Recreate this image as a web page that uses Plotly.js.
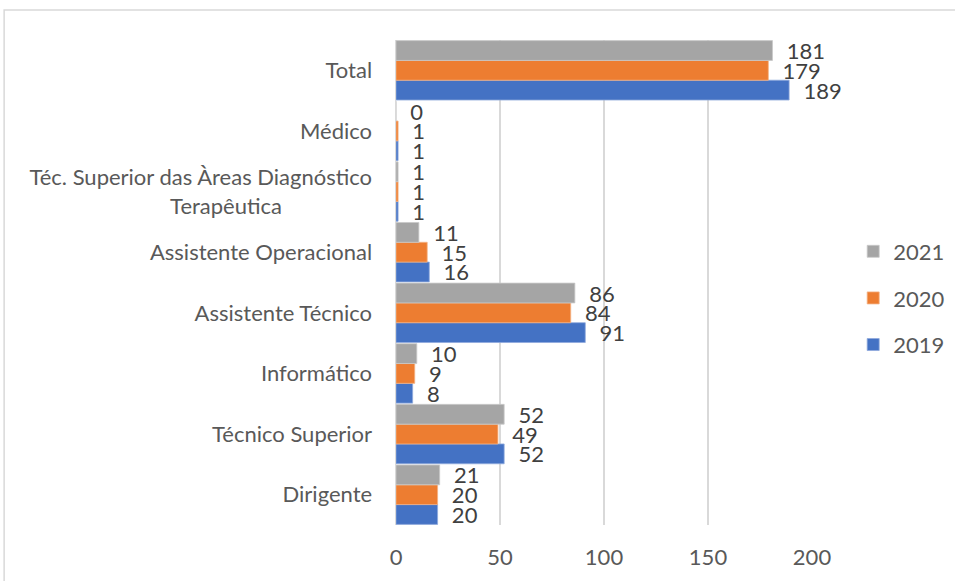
<!DOCTYPE html>
<html>
<head>
<meta charset="utf-8">
<script src="https://cdn.plot.ly/plotly-3.0.1.min.js"></script>
<style>html,body{margin:0;padding:0;background:#fff;} #chart{width:955px;height:581px;}</style>
</head>
<body>
<div id="chart"></div>
<script>
const categories = ["Dirigente", "Técnico Superior", "Informático", "Assistente Técnico", "Assistente Operacional", "Téc. Superior das Àreas Diagnóstico<br>Terapêutica", "Médico", "Total"];
const seriesNames = ["2019", "2020", "2021"];
const values2019 = [20, 52, 8, 91, 16, 1, 1, 189];
const values2020 = [20, 49, 9, 84, 15, 1, 1, 179];
const values2021 = [21, 52, 10, 86, 11, 1, 0, 181];
const xTicks = [0, 50, 100, 150, 200];

const colors = ["#4472C4", "#ED7D31", "#A5A5A5"];
const lineColors = ["#8faadc", "#f4b183", "#c9c9c9"];
const allValues = [values2019, values2020, values2021];
const FONT = "Lato, 'Open Sans', sans-serif";
const FS = 22;

// center multi-line tick labels by padding shorter lines with no-break spaces
const ctx = document.createElement("canvas").getContext("2d");
ctx.font = FS + "px Lato";
const nbspW = ctx.measureText("\u00a0").width || FS * 0.19;
function centerLines(label) {
  const lines = label.split("<br>");
  if (lines.length < 2) return label;
  const widths = lines.map(l => ctx.measureText(l).width);
  const maxW = Math.max(...widths);
  return lines.map((l, k) => l + "\u00a0".repeat(Math.round(0.78 * (maxW - widths[k]) / 2 / nbspW))).join("<br>");
}
const tickText = categories.map(centerLines);

const traces = allValues.map((vals, i) => ({
  type: "bar",
  orientation: "h",
  name: seriesNames[i],
  y: categories,
  x: vals,
  text: vals.map(v => String(v)),
  texttemplate: "\u00a0\u00a0%{text}",
  textposition: "outside",
  constraintext: "none",
  cliponaxis: false,
  textfont: {family: FONT, size: FS, color: "#404040"},
  marker: {color: colors[i], line: {color: lineColors[i], width: 0.8}},
  legendgroup: "g" + i,
  legendrank: 3 - i,
  hoverinfo: "x+name"
}));

const layout = {
  width: 955,
  height: 581,
  margin: {l: 396, r: 143, t: 40, b: 56, autoexpand: false},
  paper_bgcolor: "#ffffff",
  plot_bgcolor: "#ffffff",
  barmode: "group",
  bargap: 0.02,
  bargroupgap: 0,
  font: {family: FONT, size: FS, color: "#595959"},
  xaxis: {
    range: [0, 200],
    tickvals: xTicks,
    ticktext: xTicks.map(String),
    showgrid: true,
    gridcolor: "#d9d9d9",
    gridwidth: 1.5,
    zeroline: false,
    showline: false,
    ticklabelstandoff: 17,
    tickfont: {family: FONT, size: FS, color: "#595959"},
    fixedrange: true
  },
  yaxis: {
    type: "category",
    categoryorder: "array",
    categoryarray: categories,
    tickvals: categories,
    ticktext: tickText,
    showgrid: false,
    zeroline: false,
    showline: true,
    linecolor: "#d9d9d9",
    linewidth: 1.5,
    ticks: "",
    ticklabelstandoff: 18,
    tickfont: {family: FONT, size: FS, color: "#595959"},
    fixedrange: true
  },
  showlegend: true,
  legend: {
    x: 1.099, xanchor: "left",
    y: 0.468, yanchor: "middle",
    traceorder: "grouped",
    tracegroupgap: 15,
    font: {family: FONT, size: FS, color: "#595959"},
    bgcolor: "rgba(0,0,0,0)"
  },
  shapes: [{
    type: "rect", xref: "paper", yref: "paper",
    x0: -0.942, x1: 1.5, y0: -0.2, y1: 1.062,
    line: {color: "#d9d9d9", width: 1.5}, fillcolor: "rgba(0,0,0,0)", layer: "below"
  }]
};

Plotly.newPlot("chart", traces, layout, {displayModeBar: false, staticPlot: true});
</script>
</body>
</html>
